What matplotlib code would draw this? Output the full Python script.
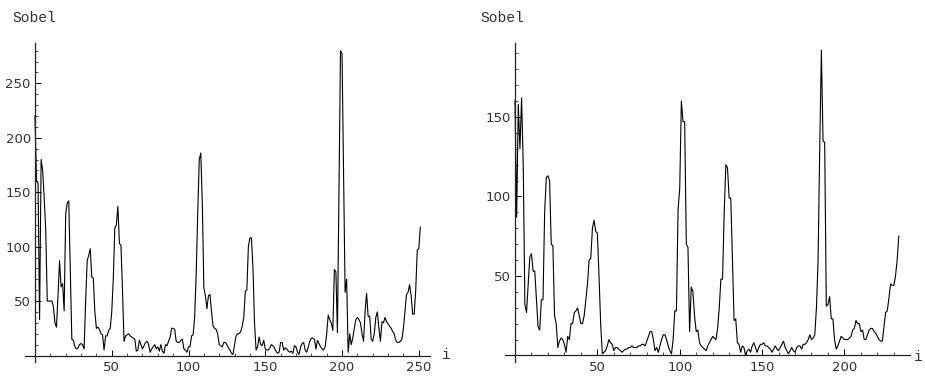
import numpy as np
import matplotlib
matplotlib.use("Agg")
import matplotlib.pyplot as plt
from matplotlib.ticker import MultipleLocator, FixedLocator

# Sobel response along the row, first image (i = 0..251)
sobel_left = [
    220, 160, 158, 33, 180, 170, 145, 115, 50, 50,
    50, 50, 45, 30, 26, 55, 87, 63, 66, 41,
    130, 140, 142, 80, 15, 14, 8, 6, 7, 10,
    11, 10, 6, 50, 87, 92, 98, 72, 71, 40,
    25, 26, 24, 20, 19, 5, 18, 18, 23, 25,
    40, 70, 117, 120, 137, 103, 101, 60, 13, 18,
    19, 20, 18, 17, 16, 15, 4, 5, 14, 10,
    6, 9, 12, 13, 10, 3, 6, 8, 10, 6,
    8, 4, 10, 4, 2, 10, 9, 13, 17, 25,
    25, 24, 13, 12, 12, 14, 15, 6, 5, 3,
    8, 8, 18, 19, 35, 75, 130, 180, 186, 140,
    62, 55, 43, 55, 56, 40, 27, 25, 24, 20,
    10, 9, 8, 12, 12, 10, 7, 5, 2, 1,
    10, 18, 20, 20, 22, 27, 35, 59, 60, 100,
    108, 108, 80, 30, 5, 8, 17, 10, 9, 14,
    6, 5, 5, 7, 10, 9, 7, 4, 2, 3,
    12, 12, 5, 7, 6, 4, 3, 4, 2, 9,
    8, 3, 1, 8, 11, 12, 5, 3, 8, 13,
    16, 16, 15, 6, 14, 11, 8, 6, 5, 8,
    20, 37, 33, 30, 23, 79, 77, 21, 150, 280,
    277, 170, 58, 70, 3, 20, 10, 16, 25, 33,
    35, 33, 30, 20, 13, 40, 57, 36, 36, 15,
    13, 20, 35, 40, 25, 13, 31, 30, 35, 31,
    29, 27, 25, 22, 20, 14, 12, 12, 13, 15,
    25, 40, 56, 58, 65, 55, 38, 38, 60, 97,
    98, 118,
]

# second image (i = 0..233)
sobel_right = [
    160, 87, 158, 130, 162, 120, 32, 27, 45, 62,
    64, 53, 53, 35, 18, 16, 35, 35, 90, 112,
    113, 110, 70, 69, 25, 20, 5, 9, 11, 10,
    7, 2, 12, 10, 20, 20, 27, 28, 30, 25,
    20, 20, 25, 35, 45, 60, 61, 80, 85, 78,
    77, 50, 20, 1, 2, 3, 6, 10, 8, 7,
    3, 5, 5, 4, 3, 2, 3, 4, 4, 5,
    5, 6, 5, 5, 5, 6, 6, 7, 7, 6,
    9, 12, 15, 15, 10, 3, 5, 2, 6, 10,
    13, 13, 10, 6, 3, 1, 10, 28, 28, 92,
    105, 160, 147, 147, 70, 68, 15, 43, 40, 25,
    15, 16, 8, 6, 5, 4, 3, 6, 8, 10,
    12, 11, 10, 17, 30, 48, 48, 90, 120, 118,
    99, 99, 60, 22, 23, 8, 7, 2, 6, 5,
    0, 3, 4, 2, 6, 8, 5, 2, 5, 7,
    7, 8, 6, 6, 5, 4, 2, 4, 6, 4,
    3, 5, 7, 9, 5, 3, 1, 3, 5, 3,
    2, 5, 6, 6, 4, 7, 7, 8, 10, 13,
    10, 11, 13, 30, 60, 130, 192, 135, 134, 31,
    32, 37, 23, 23, 10, 4, 6, 9, 12, 11,
    10, 10, 10, 11, 12, 16, 17, 22, 20, 20,
    15, 16, 10, 10, 13, 16, 17, 17, 15, 14,
    12, 10, 9, 9, 18, 27, 28, 36, 45, 44,
    44, 50, 60, 75,
]

x_major = [50, 100, 150, 200, 250]
y_major_left = [50, 100, 150, 200, 250]
y_major_right = [50, 100, 150]

ylabel = "Sobel"
xlabel = "i"


def style_axes(ax, xlim, ylim, yticks):
    ax.set_xlim(*xlim)
    ax.set_ylim(*ylim)
    for s in ("top", "right"):
        ax.spines[s].set_visible(False)
    ax.spines["left"].set_position(("data", 0))
    ax.spines["bottom"].set_position(("data", 0))
    for s in ("left", "bottom"):
        ax.spines[s].set_linewidth(0.9)
        ax.spines[s].set_color("#222222")
    ax.xaxis.set_major_locator(FixedLocator(x_major))
    ax.yaxis.set_major_locator(FixedLocator(yticks))
    ax.xaxis.set_minor_locator(MultipleLocator(10))
    ax.yaxis.set_minor_locator(MultipleLocator(10))
    ax.tick_params(which="major", direction="in", length=4, width=0.7,
                   labelsize=9.5, labelcolor="#333333", pad=3)
    ax.tick_params(which="minor", direction="in", length=2, width=0.5)
    ax.tick_params(axis="x", which="major", pad=4)


def main():
    fig = plt.figure(figsize=(9.25, 3.76), dpi=100)

    # left panel
    ax1 = fig.add_axes([25 / 925, 14.5 / 376, 405 / 925, 318.5 / 376])
    ax1.plot(np.arange(len(sobel_left)), sobel_left, color="black", lw=0.8)
    style_axes(ax1, (-6.5, 257.3), (-5.5, 287), y_major_left)

    # right panel
    ax2 = fig.add_axes([505 / 925, 14.5 / 376, 405 / 925, 318.5 / 376])
    ax2.plot(np.arange(len(sobel_right)), sobel_right, color="black", lw=0.8)
    style_axes(ax2, (-6.07, 239.8), (-3.8, 196.5), y_major_right)

    mono = "Liberation Mono"
    fig.text(12 / 925, 1 - 18 / 376, ylabel, family=mono, fontsize=10.5,
             color="#333333", ha="left", va="center")
    fig.text(480 / 925, 1 - 18 / 376, ylabel, family=mono, fontsize=10.5,
             color="#333333", ha="left", va="center")
    fig.text(442 / 925, 1 - 355 / 376, xlabel, family=mono, fontsize=10.5,
             color="#333333", ha="left", va="center")
    fig.text(914 / 925, 1 - 357 / 376, xlabel, family=mono, fontsize=10.5,
             color="#333333", ha="left", va="center")

    fig.savefig("out.png", dpi=100)


if __name__ == "__main__":
    main()
